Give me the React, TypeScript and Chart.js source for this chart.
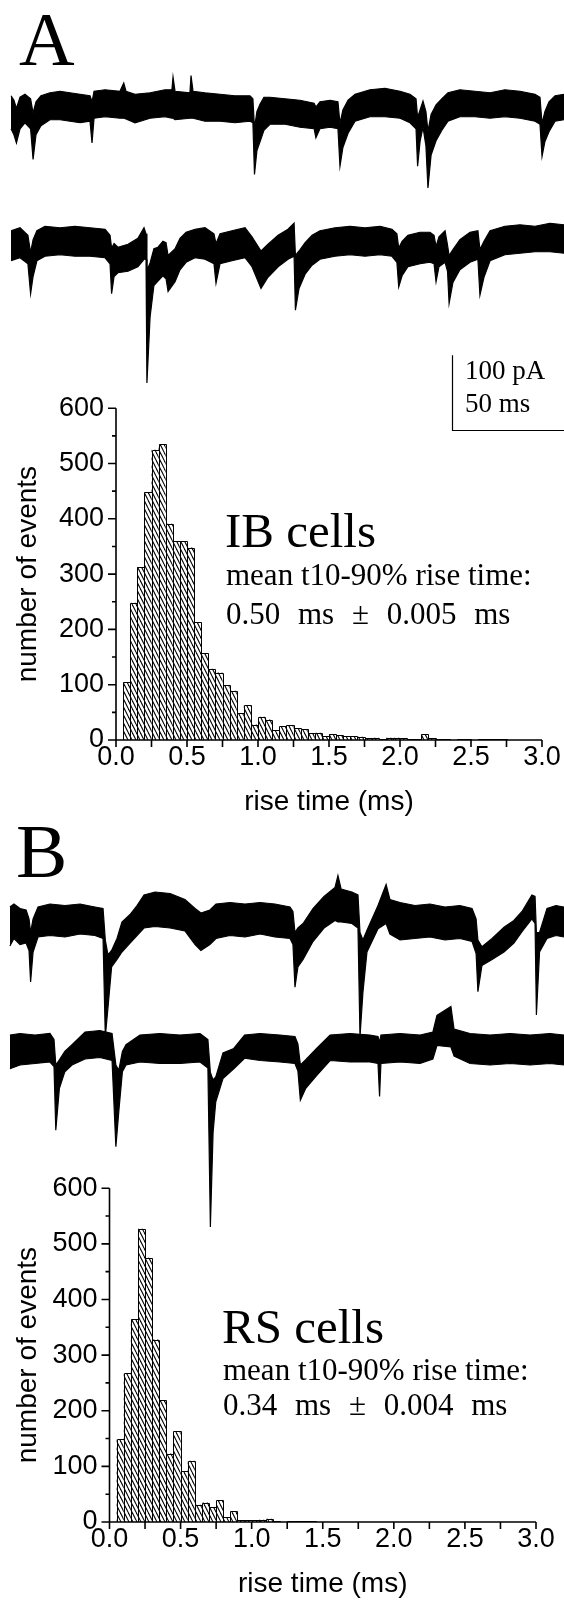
import React, { useEffect, useRef } from 'react';
import { Chart, registerables } from 'chart.js';

Chart.register(...registerables);

// ---------------- DATA ----------------
// Left edges (ms) of the 0.05-ms rise-time bins
const binLeftEdges: number[] = [
  0.05, 0.10, 0.15, 0.20, 0.25, 0.30, 0.35, 0.40, 0.45, 0.50,
  0.55, 0.60, 0.65, 0.70, 0.75, 0.80, 0.85, 0.90, 0.95, 1.00,
  1.05, 1.10, 1.15, 1.20, 1.25, 1.30, 1.35, 1.40, 1.45, 1.50,
  1.55, 1.60, 1.65, 1.70, 1.75, 1.80, 1.85, 1.90, 1.95, 2.00,
  2.05, 2.10, 2.15, 2.20, 2.25, 2.30, 2.35, 2.40, 2.45, 2.50,
  2.55, 2.60, 2.65, 2.70, 2.75, 2.80, 2.85, 2.90, 2.95,
];
const binWidth = 0.05;

// IB cells: number of events per bin
const ibCounts: number[] = [
  104, 248, 313, 448, 525, 535, 391, 359, 359, 348,
  213, 157, 129, 122, 99, 89, 49, 63, 28, 42,
  37, 18, 25, 27, 21, 20, 12, 13, 7, 11,
  9, 7, 7, 6, 3, 4, 1, 4, 4, 3,
  1, 1, 10, 3, 1, 1, 0, 1, 1, 0,
  1, 1, 1, 1, 0, 0, 0, 0, 0,
];

// RS cells: number of events per bin
const rsCounts: number[] = [
  149, 267, 364, 527, 475, 328, 219, 123, 163, 91,
  110, 31, 35, 27, 39, 9, 19, 3, 3, 3,
  4, 6, 2, 0, 2, 2, 2, 2, 0, 0,
  0, 0, 0, 0, 0, 0, 0, 0, 0, 0,
  0, 0, 0, 0, 0, 0, 0, 0, 0, 0,
  0, 0, 0, 0, 0, 0, 0, 0, 0,
];

const xTickLabels: number[] = [0, 0.5, 1.0, 1.5, 2.0, 2.5, 3.0];
const xTickMarks: number[] = [0, 0.25, 0.5, 0.75, 1.0, 1.25, 1.5, 1.75, 2.0, 2.25, 2.5, 2.75, 3.0];
const yMajorTicks: number[] = [0, 100, 200, 300, 400, 500, 600];
const yMinorTicks: number[] = [50, 150, 250, 350, 450, 550];

// Current traces: [time (ms), upper edge of noise band (pA), lower edge (pA)]
const traceA1: [number, number, number][] = [
  [4.9, 15, -29], [6.2, 9, -37], [7.3, -2, -48], [8.9, 13, -29], [11.1, 17, -21],
  [13.6, 11, -29], [14.7, -8, -70], [16.0, 7, -37], [18.2, 15, -25], [22.2, 19, -17],
  [26.7, 21, -17], [31.1, 19, -19], [35.6, 17, -21], [40.0, 15, -19], [40.9, 7, -48],
  [41.8, 21, -15], [46.7, 23, -13], [53.3, 21, -15], [55.0, 32, -15], [56.0, 21, -16],
  [60.0, 17, -21], [66.7, 19, -15], [73.3, 23, -13], [76.4, 23, -15], [76.9, 40, -15],
  [77.8, 21, -17], [84.4, 19, -15], [84.9, 42, -15], [85.8, 21, -15], [91.1, 19, -19],
  [97.8, 17, -19], [104.4, 15, -21], [111.1, 15, -19], [112.4, 11, -21], [113.1, -28, -90],
  [114.2, -6, -58], [115.6, 4, -46], [117.3, 13, -31], [120.0, 13, -23], [126.7, 11, -23],
  [133.3, 9, -27], [139.6, 5, -29], [140.4, 0, -41], [142.2, 7, -29], [146.7, 9, -27],
  [150.2, 7, -29], [151.1, -22, -79], [152.4, -4, -54], [154.7, 9, -35], [157.8, 17, -19],
  [164.4, 23, -13], [171.1, 25, -13], [177.8, 21, -15], [182.2, 17, -21], [184.9, 11, -29],
  [185.6, -14, -79], [186.7, -4, -46], [188.0, 8, -27], [189.3, -6, -52], [190.2, -32, -108],
  [191.6, -10, -64], [193.8, 3, -45], [196.4, 11, -31], [199.1, 19, -19], [204.4, 23, -13],
  [211.1, 21, -13], [217.8, 19, -15], [224.4, 23, -13], [231.1, 21, -15], [237.8, 17, -19],
  [240.0, 13, -23], [240.9, -22, -66], [242.2, -6, -46], [244.0, 7, -33], [246.7, 15, -19],
  [250.7, 17, -17],
];

const traceA2: [number, number, number][] = [
  [4.9, 15, -25], [8.9, 19, -21], [12.4, 9, -29], [13.6, -14, -69], [14.7, 3, -46],
  [16.4, 15, -25], [20.0, 21, -19], [26.7, 19, -17], [33.3, 21, -19], [40.0, 19, -19],
  [46.7, 17, -21], [48.9, 9, -29], [49.6, -8, -69], [50.7, -2, -46], [52.4, -7, -41],
  [56.9, -3, -39], [61.3, 5, -33], [64.0, 19, -23], [64.9, 11, -23], [65.3, -38, -188],
  [66.7, -28, -100], [68.4, -9, -58], [70.2, -7, -52], [72.4, 1, -45], [73.8, -1, -49],
  [74.7, -18, -66], [77.8, -9, -53], [80.0, 5, -37], [82.7, 13, -27], [86.7, 17, -21],
  [91.1, 19, -23], [95.1, 11, -29], [96.0, -2, -55], [97.8, 11, -29], [103.1, 15, -25],
  [108.9, 19, -21], [112.0, 7, -33], [116.0, -12, -62], [119.1, -3, -47], [123.6, 9, -33],
  [128.0, 17, -23], [130.7, 25, -19], [131.3, -18, -91], [132.9, -12, -62], [135.6, -1, -43],
  [138.7, 9, -31], [142.2, 15, -23], [148.9, 19, -19], [155.6, 21, -17], [162.2, 19, -19],
  [168.9, 21, -17], [174.2, 17, -19], [176.4, 11, -27], [177.2, -8, -60], [178.7, 1, -45],
  [181.3, 9, -33], [186.7, 13, -29], [191.1, 13, -27], [192.9, 9, -29], [193.8, -6, -53],
  [195.1, 7, -33], [197.8, 15, -27], [198.9, -4, -39], [199.6, -18, -82], [201.3, -10, -54],
  [204.4, 3, -37], [208.9, 13, -27], [212.4, 15, -23], [213.3, -10, -71], [215.1, 1, -47],
  [217.8, 15, -25], [224.4, 21, -17], [231.1, 23, -15], [237.8, 21, -13], [244.4, 25, -13],
  [250.7, 23, -15],
];

const traceB1: [number, number, number][] = [
  [4.4, 24, -28], [6.2, 28, -18], [8.9, 22, -26], [11.6, 20, -24], [12.9, 8, -34],
  [13.6, -10, -76], [14.7, 8, -36], [16.9, 24, -16], [22.2, 28, -14], [28.9, 26, -16],
  [35.6, 28, -12], [42.2, 24, -14], [45.8, 22, -18], [46.8, -20, -149], [48.0, -40, -110],
  [49.6, -34, -56], [52.0, -18, -46], [54.2, 4, -36], [57.8, 14, -24], [60.9, 26, -14],
  [64.0, 40, -4], [68.9, 44, -2], [75.6, 42, -4], [82.2, 34, -8], [86.7, 22, -26],
  [89.3, 16, -34], [93.3, 20, -26], [96.0, 28, -18], [102.2, 30, -14], [108.9, 28, -16],
  [115.6, 30, -12], [122.2, 28, -16], [128.9, 24, -18], [130.2, 18, -26], [131.1, -10, -83],
  [132.4, -4, -56], [134.7, 2, -46], [139.1, 22, -22], [144.0, 38, -4], [148.9, 50, 6],
  [150.2, 66, 4], [151.6, 48, 4], [156.4, 44, 2], [159.1, 40, -4], [160.0, -10, -149],
  [161.3, -20, -90], [163.1, -7, -36], [168.0, 26, -5], [171.6, 54, 2], [173.3, 34, -12],
  [177.8, 30, -20], [184.4, 26, -18], [191.1, 28, -16], [197.8, 24, -20], [204.4, 26, -18],
  [209.8, 22, -22], [211.6, 8, -38], [212.4, -20, -89], [214.2, -29, -54], [218.7, -18, -46],
  [224.0, -3, -36], [228.4, 6, -24], [232.0, 18, -9], [236.4, 40, 8], [237.8, 38, 2],
  [238.4, -10, -120], [239.8, -10, -36], [243.1, 22, -18], [247.1, 26, -14], [250.7, 24, -16],
];

const traceB2: [number, number, number][] = [
  [4.4, 20, -25], [8.9, 22, -20], [15.6, 20, -18], [22.2, 22, -16], [24.0, 14, -22],
  [24.8, -20, -107], [26.4, -13, -51], [28.8, -2, -29], [32.0, 7, -20], [37.8, 24, -12],
  [44.4, 26, -10], [49.8, 22, -14], [51.5, -20, -129], [52.8, -27, -82], [54.4, -2, -29],
  [56.0, 7, -20], [62.2, 20, -16], [71.1, 22, -18], [80.0, 20, -18], [88.9, 22, -16],
  [92.4, 14, -24], [93.5, -30, -236], [94.7, -40, -110], [95.9, -36, -69], [99.1, -4, -38],
  [103.9, 2, -25], [108.7, 20, -11], [115.6, 22, -14], [124.4, 20, -16], [131.1, 18, -18],
  [132.4, 8, -28], [133.5, -20, -67], [135.9, -13, -51], [140.7, 2, -34], [146.7, 20, -14],
  [155.6, 22, -16], [164.4, 20, -16], [168.0, 18, -18], [168.7, 10, -62], [169.3, 20, -18],
  [177.8, 22, -16], [186.7, 20, -18], [192.4, 24, -12], [194.2, 46, 6], [200.4, 58, 4],
  [201.8, 28, -8], [208.9, 22, -18], [217.8, 20, -20], [226.7, 22, -18], [235.6, 20, -20],
  [244.4, 22, -18], [250.7, 20, -20],
];

// Scale bar (values in trace units)
const SCALE_BAR_PA = 100;
const SCALE_BAR_MS = 50;

// ---------------- STYLE / LAYOUT ----------------
const SANS = '"Liberation Sans", Arial, Helvetica, sans-serif';
const SERIF = '"Liberation Serif", "Times New Roman", Times, serif';
const PAGE_W = 564;
const TRACE_T_MAX = 564 / 2.25; // ms across the full page width
const TRACE_Y_MAX = 80;
const TRACE_Y_MIN = -266.67;
const TRACE_H = 260;
const TICK_FONT = 27;
const TITLE_FONT = 28;

type Trace = [number, number, number][];

function TraceChart({ trace, top, scaleBarAt }: { trace: Trace; top: number; scaleBarAt?: [number, number] }) {
  const ref = useRef<HTMLCanvasElement>(null);
  useEffect(() => {
    const upper = trace.map(([t, hi]) => ({ x: t, y: hi }));
    const lower = trace.map(([t, , lo]) => ({ x: t, y: lo }));
    const plugins: any[] = [];
    if (scaleBarAt) {
      plugins.push({
        id: 'scalebar',
        afterDraw(chart: any) {
          const { ctx, scales } = chart;
          const [t0, v0] = scaleBarAt;
          const px0 = Math.round(scales.x.getPixelForValue(t0)) + 0.5;
          const px1 = scales.x.getPixelForValue(t0 + SCALE_BAR_MS);
          const py0 = Math.round(scales.y.getPixelForValue(v0)) + 0.5;
          const py1 = scales.y.getPixelForValue(v0 + SCALE_BAR_PA);
          ctx.save();
          ctx.strokeStyle = '#000';
          ctx.lineWidth = 1.2;
          ctx.beginPath();
          ctx.moveTo(px0, py1);
          ctx.lineTo(px0, py0);
          ctx.lineTo(px1, py0);
          ctx.stroke();
          ctx.restore();
        },
      });
    }
    const chart = new Chart(ref.current as HTMLCanvasElement, {
      type: 'line',
      data: {
        datasets: [
          { data: upper, borderColor: '#000', borderWidth: 1.2, pointRadius: 0, fill: false, tension: 0 },
          { data: lower, borderColor: '#000', borderWidth: 1.2, pointRadius: 0, fill: '-1', backgroundColor: '#000', tension: 0 },
        ],
      } as any,
      options: {
        animation: false,
        responsive: false,
        events: [],
        layout: { padding: 0 },
        plugins: { legend: { display: false }, tooltip: { enabled: false } },
        scales: {
          x: { type: 'linear', min: 0, max: TRACE_T_MAX, display: false },
          y: { type: 'linear', min: TRACE_Y_MIN, max: TRACE_Y_MAX, display: false },
        },
      } as any,
      plugins,
    });
    return () => chart.destroy();
  }, []);
  return (
    <canvas
      ref={ref}
      width={PAGE_W}
      height={TRACE_H}
      style={{ position: 'absolute', left: 0, top, width: PAGE_W, height: TRACE_H }}
    />
  );
}

function makeHatch(): CanvasPattern | string {
  const pc = document.createElement('canvas');
  pc.width = 4;
  pc.height = 8;
  const p = pc.getContext('2d');
  if (!p) return '#888';
  p.fillStyle = '#fff';
  p.fillRect(0, 0, 4, 8);
  p.strokeStyle = '#000';
  p.lineWidth = 1.05;
  for (const k of [-1, 0, 1]) {
    p.beginPath();
    p.moveTo(k * 4, 0);
    p.lineTo(k * 4 + 4, 8);
    p.stroke();
  }
  const pat = p.createPattern(pc, 'repeat');
  return pat || '#888';
}

// Draws crisp 1-px bar outlines; shared bin edges map to the same pixel column
const outlinePlugin = {
  id: 'barOutline',
  afterDatasetsDraw(chart: any) {
    const { ctx, scales } = chart;
    const vals = chart.data.datasets[0].data;
    const edgePx = (i: number) => {
      const v = i < binLeftEdges.length ? binLeftEdges[i] : binLeftEdges[binLeftEdges.length - 1] + binWidth;
      return Math.round(scales.x.getPixelForValue(v) + 1e-6) + 0.5;
    };
    const base = Math.round(scales.y.getPixelForValue(0));
    ctx.save();
    ctx.strokeStyle = '#000';
    ctx.lineWidth = 1;
    ctx.beginPath();
    vals.forEach((d: any, i: number) => {
      if (!d.y) return;
      const l = edgePx(i);
      const r = edgePx(i + 1);
      const t = Math.round(scales.y.getPixelForValue(d.y)) + 0.5;
      ctx.moveTo(l, base);
      ctx.lineTo(l, t);
      ctx.lineTo(r, t);
      ctx.lineTo(r, base);
    });
    ctx.stroke();
    ctx.restore();
  },
};

const axesPlugin = {
  id: 'histAxes',
  afterDraw(chart: any) {
    const { ctx, scales } = chart;
    const { x, y } = scales;
    const x0 = x.getPixelForValue(0);
    const x3 = x.getPixelForValue(3);
    const y0 = y.getPixelForValue(0);
    const y6 = y.getPixelForValue(600);
    ctx.save();
    ctx.strokeStyle = '#000';
    ctx.lineWidth = 1.6;
    ctx.beginPath();
    ctx.moveTo(x0, y6);
    ctx.lineTo(x0, y0);
    ctx.lineTo(x3, y0);
    yMajorTicks.forEach((v) => {
      const p = y.getPixelForValue(v);
      ctx.moveTo(x0, p);
      ctx.lineTo(x0 - 8, p);
    });
    yMinorTicks.forEach((v) => {
      const p = y.getPixelForValue(v);
      ctx.moveTo(x0, p);
      ctx.lineTo(x0 - 4, p);
    });
    xTickMarks.forEach((v) => {
      const p = x.getPixelForValue(v);
      ctx.moveTo(p, y0);
      ctx.lineTo(p, y0 + 7);
    });
    ctx.stroke();
    ctx.restore();
  },
};

function Histogram({
  counts, top, height, axisLeft, axisRight, plotTop, plotBottom, titleGap,
}: { counts: number[]; top: number; height: number; axisLeft: number; axisRight: number; plotTop: number; plotBottom: number; titleGap: number }) {
  const ref = useRef<HTMLCanvasElement>(null);
  useEffect(() => {
    const hatch = makeHatch();
    const data = binLeftEdges.map((l, i) => ({ x: l + binWidth / 2, y: counts[i] }));
    const xTitlePadBottom = top + height - plotBottom - titleGap - (TITLE_FONT * 1.2) / 2;
    const chart = new Chart(ref.current as HTMLCanvasElement, {
      type: 'bar',
      data: {
        datasets: [
          {
            data,
            backgroundColor: hatch,
            borderWidth: 0,
            inflateAmount: 0,
            barPercentage: 1,
            categoryPercentage: 1,
            grouped: false,
          },
        ],
      } as any,
      options: {
        animation: false,
        responsive: false,
        events: [],
        layout: { padding: { left: 0, top: plotTop - top, right: PAGE_W - axisRight, bottom: 0 } },
        plugins: { legend: { display: false }, tooltip: { enabled: false } },
        scales: {
          x: {
            type: 'linear', min: 0, max: 3, offset: false,
            grid: { display: false, drawTicks: false },
            border: { display: false },
            afterBuildTicks: (s: any) => { s.ticks = xTickLabels.map((v) => ({ value: v })); },
            ticks: {
              autoSkip: false, maxRotation: 0, padding: 1, color: '#000',
              font: { family: SANS, size: TICK_FONT },
              callback: (v: any) => Number(v).toFixed(1),
            },
            title: {
              display: true, text: 'rise time (ms)', color: '#000',
              font: { family: SANS, size: TITLE_FONT }, padding: { top: 0, bottom: xTitlePadBottom },
            },
            afterFit: (s: any) => { s.height = top + height - plotBottom; },
          },
          y: {
            type: 'linear', min: 0, max: 600,
            grid: { display: false, drawTicks: false },
            border: { display: false },
            afterBuildTicks: (s: any) => { s.ticks = yMajorTicks.map((v) => ({ value: v })); },
            ticks: { padding: 12, color: '#000', font: { family: SANS, size: TICK_FONT } },
            title: {
              display: true, text: 'number of events', color: '#000',
              font: { family: SANS, size: TITLE_FONT }, padding: { top: 11, bottom: 0 },
            },
            afterFit: (s: any) => { s.width = axisLeft; },
          },
        },
      } as any,
      plugins: [outlinePlugin, axesPlugin],
    });
    return () => chart.destroy();
  }, []);
  return (
    <canvas
      ref={ref}
      width={PAGE_W}
      height={height}
      style={{ position: 'absolute', left: 0, top, width: PAGE_W, height }}
    />
  );
}

function Txt({ text, left, baseline, size, serif = true, wordSpacing = 0 }: {
  text: string; left: number; baseline: number; size: number; serif?: boolean; wordSpacing?: number;
}) {
  const asc = serif ? 0.8375 : 0.8465;
  return (
    <div
      style={{
        position: 'absolute', left, top: baseline - asc * size,
        fontFamily: serif ? SERIF : SANS, fontSize: size, lineHeight: `${size}px`,
        whiteSpace: 'pre', color: '#000', wordSpacing,
      }}
    >
      {text}
    </div>
  );
}

export default function App() {
  return (
    <div style={{ position: 'absolute', left: 0, top: 0, width: PAGE_W, height: 1605, background: '#fff', overflow: 'hidden' }}>
      <Txt text="A" left={19} baseline={65} size={77} />
      <TraceChart trace={traceA1} top={47} />
      <TraceChart trace={traceA2} top={182} scaleBarAt={[200.8, -251]} />
      <Txt text="100 pA" left={465} baseline={380} size={27} />
      <Txt text="50 ms" left={465} baseline={413} size={27} />
      <Histogram counts={ibCounts} top={380} height={450} axisLeft={116} axisRight={542} plotTop={395} plotBottom={740} titleGap={62} />
      <Txt text="IB cells" left={225} baseline={547} size={49} />
      <Txt text="mean t10-90% rise time:" left={226} baseline={585} size={31} />
      <Txt text="0.50 ms ± 0.005 ms" left={226} baseline={624} size={31} wordSpacing={10} />

      <Txt text="B" left={16} baseline={877} size={77} />
      <TraceChart trace={traceB1} top={865} />
      <TraceChart trace={traceB2} top={990} />
      <Histogram counts={rsCounts} top={1160} height={445} axisLeft={109.5} axisRight={536} plotTop={1176} plotBottom={1522} titleGap={62} />
      <Txt text="RS cells" left={222} baseline={1343} size={49} />
      <Txt text="mean t10-90% rise time:" left={223} baseline={1380} size={31} />
      <Txt text="0.34 ms ± 0.004 ms" left={223} baseline={1415} size={31} wordSpacing={10} />
    </div>
  );
}
